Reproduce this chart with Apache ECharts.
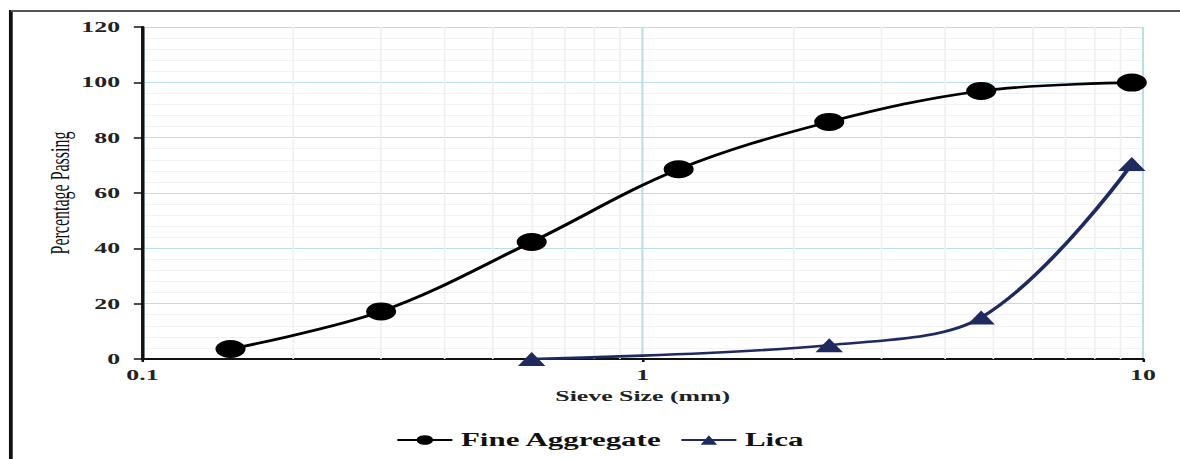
<!DOCTYPE html>
<html>
<head>
<meta charset="utf-8">
<script src="https://cdn.jsdelivr.net/npm/echarts@6/dist/echarts.min.js"></script>
<style>
  html, body { margin: 0; padding: 0; background: #fff; overflow: hidden; }
  #wrap { width: 1180px; height: 459px; overflow: hidden; position: relative; }
  /* chart is laid out narrow and widened horizontally */
  #chart { width: 686px; height: 459px; transform: scaleX(1.72); transform-origin: 0 0; }
</style>
</head>
<body>
<div id="wrap"><div id="chart"></div></div>
<script>
// Sieve sizes (mm) and percentage passing
const sieveFine = [0.15, 0.3, 0.6, 1.18, 2.36, 4.75, 9.5];
const passingFine = [3.6, 17.2, 42.3, 68.6, 85.7, 96.9, 99.9];
const sieveLica = [0.6, 2.36, 4.75, 9.5];
const passingLica = [0, 5, 15, 70.5];

// Log-scale minor grid positions between decades
const minorX = [0.2, 0.3, 0.4, 0.5, 0.6, 0.7, 0.8, 0.9, 2, 3, 4, 5, 6, 7, 8, 9];
const yTicks = { min: 0, max: 120, step: 20 };

const serif = '"Liberation Serif", "Times New Roman", serif';

const chart = echarts.init(document.getElementById('chart'), null, { renderer: 'svg' });

const fineData = sieveFine.map((x, i) => [x, passingFine[i]]);
const licaData = sieveLica.map((x, i) => [x, passingLica[i]]);

chart.setOption({
  animation: false,
  backgroundColor: '#fff',
  grid: { left: 82.8, right: 21.5, top: 27, bottom: 100, containLabel: false },
  graphic: [
    { type: 'line', silent: true, shape: { x1: 6.3, y1: 10, x2: 6.3, y2: 470 },
      style: { stroke: '#111', lineWidth: 2.2 } },
    { type: 'line', silent: true, shape: { x1: 6.3, y1: 11, x2: 700, y2: 11 },
      style: { stroke: '#555', lineWidth: 2 } }
  ],
  legend: {
    left: 225,
    top: 426,
    itemWidth: 32,
    itemHeight: 12,
    itemGap: 10,
    textStyle: { fontFamily: serif, fontWeight: 'bold', fontSize: 18, color: '#111' },
    data: ['Fine Aggregate', 'Lica']
  },
  xAxis: {
    type: 'log',
    logBase: 10,
    min: 0.1,
    max: 10,
    name: 'Sieve Size (mm)',
    nameLocation: 'middle',
    nameGap: 30,
    nameMoveOverlap: false,
    nameTextStyle: { fontFamily: serif, fontWeight: 'bold', fontSize: 15, color: '#222' },
    axisLine: { show: true, onZero: false, lineStyle: { color: '#111', width: 2 } },
    axisTick: { show: true, length: 3, lineStyle: { color: '#111', width: 1.5 } },
    axisLabel: {
      margin: 9,
      fontFamily: serif, fontWeight: 'bold', fontSize: 15, color: '#222',
      formatter: v => String(+v.toPrecision(3))
    },
    splitLine: { show: true, lineStyle: { color: '#b9dde9', width: 1.2 } }
  },
  yAxis: {
    type: 'value',
    min: yTicks.min,
    max: yTicks.max,
    interval: yTicks.step,
    name: 'Percentage Passing',
    nameLocation: 'middle',
    nameRotate: 90,
    nameGap: 40,
    nameMoveOverlap: false,
    nameTextStyle: { fontFamily: serif, fontSize: 16, color: '#111' },
    axisLine: { show: true, lineStyle: { color: '#111', width: 2 } },
    axisTick: { show: true, length: 5, lineStyle: { color: '#111', width: 1.5 } },
    axisLabel: { margin: 13, fontFamily: serif, fontWeight: 'bold', fontSize: 15, color: '#222' },
    splitLine: { show: true, lineStyle: { color: '#b9dde9', width: 1.2 } },
    minorTick: { show: false, splitNumber: 5 },
    minorSplitLine: { show: true, lineStyle: { color: '#f2f2f2', width: 1 } }
  },
  series: [
    {
      name: 'Fine Aggregate',
      type: 'line',
      data: fineData,
      smooth: 0.35,
      symbol: 'circle',
      symbolSize: [17.5, 18],
      color: '#000',
      lineStyle: { color: '#000', width: 2.6 },
      itemStyle: { color: '#000' },
      z: 3,
      markLine: {
        silent: true,
        symbol: ['none', 'none'],
        label: { show: false },
        lineStyle: { color: '#f0f0f0', type: 'solid', width: 1 },
        emphasis: { disabled: true },
        z: 1,
        data: minorX.map(v => ({ xAxis: v }))
      }
    },
    {
      name: 'Lica',
      type: 'line',
      data: licaData,
      smooth: 0.35,
      symbol: 'triangle',
      symbolSize: [16, 14],
      color: '#1f2b5e',
      lineStyle: { color: '#1f2b5e', width: 2.6 },
      itemStyle: { color: '#1f2b5e' },
      z: 3
    }
  ]
});
</script>
</body>
</html>
